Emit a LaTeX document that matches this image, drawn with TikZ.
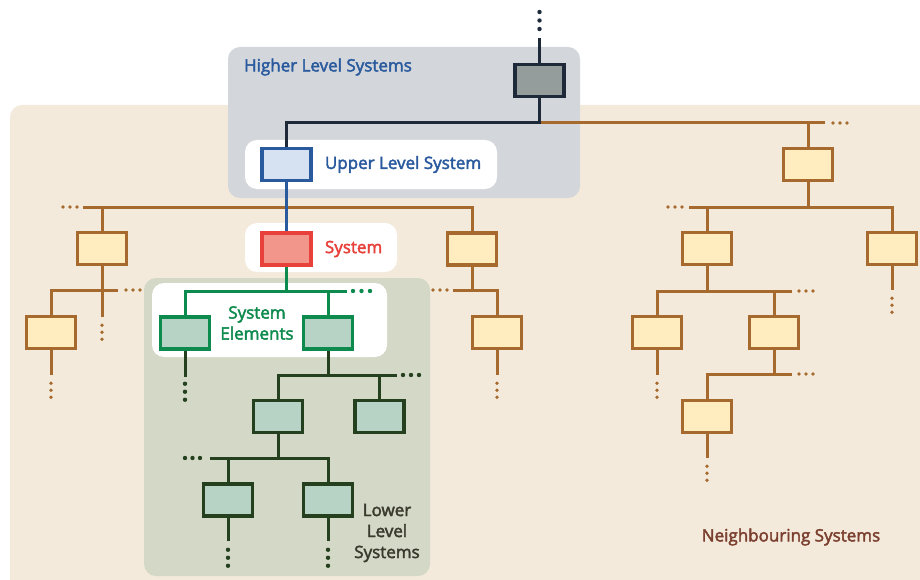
\documentclass[tikz,border=0pt]{standalone}
\usepackage{fontspec}
\setmainfont{Open Sans}[UprightFeatures={FakeBold=2.5}]
\usepackage{xcolor}
\usetikzlibrary{positioning}

\definecolor{navy}{HTML}{1E2A3A}
\definecolor{hlsgray}{HTML}{959C9C}
\definecolor{hlsbg}{HTML}{D3D7DB}
\definecolor{ulblue}{HTML}{2A5A9E}
\definecolor{ulfill}{HTML}{D6E1F1}
\definecolor{sysred}{HTML}{E8403A}
\definecolor{sysfill}{HTML}{F2958A}
\definecolor{elgreen}{HTML}{0D8A4D}
\definecolor{elfill}{HTML}{B7D3C5}
\definecolor{lowgreen}{HTML}{24401F}
\definecolor{lowbg}{HTML}{D3D9C6}
\definecolor{lowtext}{HTML}{3A3A2C}
\definecolor{nbbrown}{HTML}{A66A2E}
\definecolor{nbfill}{HTML}{FFEDC0}
\definecolor{nbbg}{HTML}{F3EADC}
\definecolor{nbtext}{HTML}{7B3F2F}

\begin{document}
\begin{tikzpicture}[
		x=1pt, y=-1pt,
		box/.style={rectangle, minimum width=49pt, minimum height=32pt, line width=3.5pt, inner sep=0pt},
		hlsbox/.style={box, draw=navy, fill=hlsgray},
		ulbox/.style={box, draw=ulblue, fill=ulfill},
		sysbox/.style={box, draw=sysred, fill=sysfill},
		elbox/.style={box, draw=elgreen, fill=elfill},
		lowbox/.style={box, draw=lowgreen, fill=elfill},
		nbbox/.style={box, draw=nbbrown, fill=nbfill},
		link/.style={line width=3pt},
		dotrun/.style={line width=3.6pt, line cap=round, dash pattern=on 0pt off #1},
		dotrun/.default=7pt,
		bigdots/.style={dotrun=#1, line width=4.4pt},
		region/.style={rounded corners=12pt},
		txt/.style={font=\fontsize{17}{21}\selectfont, inner sep=0pt, align=center}
		]
		
		% Areas
		\useasboundingbox (0,0) rectangle (920,580);
		\begin{scope}
			\clip (0,0) rectangle (920,580);
			\fill[nbbg, region] (10,105) rectangle (940,600);
		\end{scope}
		\fill[hlsbg, region] (228,47) rectangle (580,198);
		\fill[lowbg, region] (144,278) rectangle (430,576);
		\fill[white, region] (245,140) rectangle (497,189);
		\fill[white, region] (245,223) rectangle (397,272);
		\fill[white, region] (152,283) rectangle (387,357);
		
		% Systems
		\node[hlsbox] (hls) at (539.5,80.5) {};
		\node[ulbox] (ul) at (286.5,164.5) {};
		\node[sysbox] (sys) at (286.5,249) {};
		
		% Neighbouring systems
		\node[nbbox] (l1) at (102,248.5) {};
		\node[nbbox] (l2) at (51,332.5) {};
		\node[nbbox] (r1) at (472,249) {};
		\node[nbbox] (r2) at (497,332.5) {};
		\node[nbbox] (n1) at (808,164.5) {};
		\node[nbbox] (n2) at (707,248.5) {};
		\node[nbbox] (n3) at (892,248.5) {};
		\node[nbbox] (n4) at (657,332.5) {};
		\node[nbbox] (n5) at (774,332.5) {};
		\node[nbbox] (n6) at (707,416.5) {};
		
		% System elements
		\node[elbox] (e1) at (185,333) {};
		\node[elbox] (e2) at (328,333) {};
		
		% Lower level systems
		\node[lowbox] (s1) at (278,416.5) {};
		\node[lowbox] (s2) at (379.5,416.5) {};
		\node[lowbox] (s3) at (228,500) {};
		\node[lowbox] (s4) at (328,500) {};
		
		% Texts
		\node[txt, ulblue] (hlstext) at (328,67) {Higher Level Systems};
		\node[txt, ulblue, right=12pt of ul] (ultext) {Upper Level System};
		\node[txt, sysred, right=12pt of sys] (systext) {System};
		\node[txt, elgreen] (eltext) at (257,323) {System\\Elements};
		\node[txt, lowtext] (lowtxt) at (387,533) {Lower\\Level\\Systems};
		\node[txt, nbtext] (nbtxt) at (791,537) {Neighbouring Systems};
		
		% Links, neighbouring systems (left)
		\coordinate (busA) at (83,207);
		\coordinate (busB) at (118,290);
		\coordinate (busC) at (453,290);
		\draw[link, nbbrown] (busA) -| (r1);
		\draw[link, nbbrown] (l1) -- (l1 |- busA);
		\draw[dotrun, nbbrown] ([xshift=-20pt]busA) -- ++(15,0);
		\draw[link, nbbrown] (busB) -| (l2);
		\draw[dotrun, nbbrown] ([xshift=8pt]busB) -- ++(15,0);
		\draw[link, nbbrown] (l1.south) -- ++(0,51) coordinate (l1tail);
		\draw[dotrun, nbbrown] ([yshift=-8pt]l1tail) -- ++(0,15);
		\draw[link, nbbrown] (l2.south) -- ++(0,25) coordinate (l2tail);
		\draw[dotrun, nbbrown] ([yshift=-8pt]l2tail) -- ++(0,15);
		\draw[link, nbbrown] (busC) -| (r2);
		\draw[link, nbbrown] (r1) -- (r1 |- busC);
		\draw[dotrun, nbbrown] ([xshift=-20pt]busC) -- ++(15,0);
		\draw[link, nbbrown] (r2.south) -- ++(0,25) coordinate (r2tail);
		\draw[dotrun, nbbrown] ([yshift=-8pt]r2tail) -- ++(0,15);
		
		% Links, neighbouring systems (right)
		\coordinate (j0) at (539.5,123);
		\coordinate (busD) at (825,123);
		\coordinate (busE) at (689,207);
		\coordinate (busF) at (792,291);
		\coordinate (busG) at (792,374);
		\draw[link, nbbrown] (j0) -- (busD);
		\draw[link, nbbrown] (n1) -- (n1 |- busD);
		\draw[dotrun, nbbrown] ([xshift=8pt]busD) -- ++(15,0);
		\draw[link, nbbrown] (busE) -| (n3);
		\draw[link, nbbrown] (n1) -- (n1 |- busE);
		\draw[link, nbbrown] (n2) -- (n2 |- busE);
		\draw[dotrun, nbbrown] ([xshift=-21pt]busE) -- ++(15,0);
		\draw[link, nbbrown] (n3.south) -- ++(0,24) coordinate (n3tail);
		\draw[dotrun, nbbrown] ([yshift=-8pt]n3tail) -- ++(0,15);
		\draw[link, nbbrown] (busF) -| (n4);
		\draw[link, nbbrown] (n2) -- (n2 |- busF);
		\draw[link, nbbrown] (n5) -- (n5 |- busF);
		\draw[dotrun, nbbrown] ([xshift=7pt]busF) -- ++(15,0);
		\draw[link, nbbrown] (n4.south) -- ++(0,25) coordinate (n4tail);
		\draw[dotrun, nbbrown] ([yshift=-8pt]n4tail) -- ++(0,15);
		\draw[link, nbbrown] (busG) -| (n6);
		\draw[link, nbbrown] (n5) -- (n5 |- busG);
		\draw[dotrun, nbbrown] ([xshift=7pt]busG) -- ++(15,0);
		\draw[link, nbbrown] (n6.south) -- ++(0,24) coordinate (n6tail);
		\draw[dotrun, nbbrown] ([yshift=-8pt]n6tail) -- ++(0,15);
		
		% Links, higher and upper level
		\coordinate (topend) at (539.5,38);
		\draw[bigdots=8.5pt, navy] ([yshift=26pt]topend) -- ++(0,18);
		\draw[link, navy] (topend) -- (hls);
		\draw[link, navy] (hls) -- (j0) -| (ul);
		\draw[link, ulblue] (ul) -- (sys);
		
		% Links, system elements
		\coordinate (busH) at (347,291);
		\draw[link, elgreen] (busH) -| (e1);
		\draw[link, elgreen] (sys) -- (sys |- busH);
		\draw[link, elgreen] (e2) -- (e2 |- busH);
		\draw[bigdots=8.5pt, elgreen] ([xshift=6pt]busH) -- ++(17.5,0);
		
		% Links, lower level systems
		\coordinate (busI) at (397,375);
		\coordinate (busJ) at (210,458);
		\draw[link, lowgreen] (e1.south) -- ++(0,26) coordinate (e1tail);
		\draw[bigdots=8pt, lowgreen] ([yshift=-7pt]e1tail) -- ++(0,17);
		\draw[link, lowgreen] (busI) -| (s1);
		\draw[link, lowgreen] (e2) -- (e2 |- busI);
		\draw[link, lowgreen] (s2) -- (s2 |- busI);
		\draw[bigdots=8pt, lowgreen] ([xshift=6pt]busI) -- ++(17,0);
		\draw[link, lowgreen] (busJ) -| (s4);
		\draw[link, lowgreen] (s1) -- (s1 |- busJ);
		\draw[link, lowgreen] (s3) -- (s3 |- busJ);
		\draw[bigdots=7.5pt, lowgreen] ([xshift=-25pt]busJ) -- ++(15.5,0);
		\draw[link, lowgreen] (s3.south) -- ++(0,23) coordinate (s3tail);
		\draw[bigdots=8pt, lowgreen] ([yshift=-9pt]s3tail) -- ++(0,17);
		\draw[link, lowgreen] (s4.south) -- ++(0,23) coordinate (s4tail);
		\draw[bigdots=8pt, lowgreen] ([yshift=-9pt]s4tail) -- ++(0,17);
		
	\end{tikzpicture}
\end{document}
